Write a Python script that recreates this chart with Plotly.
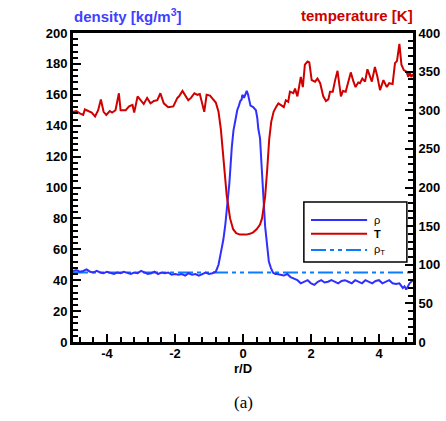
import plotly.graph_objects as go

# ---------------- data ----------------
r_T = [-5.0, -4.9, -4.8, -4.7, -4.65, -4.55, -4.45, -4.35, -4.26, -4.18, -4.1, -4.02,
       -3.92, -3.85, -3.75, -3.65, -3.6, -3.45, -3.35, -3.25, -3.2, -3.1, -3.0, -2.92,
       -2.82, -2.72, -2.62, -2.52, -2.43, -2.33, -2.2, -2.05, -1.93, -1.88, -1.78, -1.69,
       -1.61, -1.53, -1.43, -1.34, -1.27, -1.14, -1.07, -0.97, -0.87, -0.8, -0.72, -0.65,
       -0.6, -0.55, -0.48, -0.38, -0.29, -0.2, -0.09, 0.0, 0.1, 0.2, 0.3, 0.4, 0.5, 0.56,
       0.65, 0.71, 0.77, 0.83, 0.9, 0.97, 1.04, 1.14, 1.2, 1.26, 1.33, 1.38, 1.48, 1.53,
       1.6, 1.7, 1.76, 1.82, 1.9, 1.95, 2.02, 2.12, 2.19, 2.27, 2.36, 2.44, 2.51, 2.56,
       2.64, 2.71, 2.78, 2.88, 2.94, 3.02, 3.09, 3.17, 3.25, 3.31, 3.39, 3.44, 3.51, 3.59,
       3.66, 3.74, 3.79, 3.88, 3.95, 4.03, 4.13, 4.23, 4.3, 4.4, 4.47, 4.53, 4.6, 4.66,
       4.73, 4.81, 4.86, 4.9, 4.95, 5.0]
T_vals = [298, 299, 296, 294, 301, 299, 297, 292, 300, 314, 298, 294,
          299, 297, 300, 322, 300, 300, 305, 307, 297, 318, 313, 308,
          316, 309, 312, 313, 322, 309, 304, 305, 316, 318, 325, 318,
          313, 316, 322, 320, 321, 298, 320, 319, 313, 310, 298, 275,
          250, 222, 190, 160, 146, 141, 139, 139, 139, 140, 142, 146, 152, 160,
          188, 222, 262, 285, 298, 304, 309, 306, 304, 313, 311, 324, 322, 328,
          318, 343, 330, 359, 363, 362, 339, 337, 341, 335, 318, 312, 314, 324,
          324, 339, 351, 318, 325, 324, 335, 349, 337, 330, 336, 335, 341, 337,
          353, 344, 337, 356, 344, 326, 339, 330, 335, 334, 361, 364, 386, 359,
          352, 350, 343, 349, 343, 347]

r_rho = [-5.0, -4.9, -4.8, -4.7, -4.6, -4.5, -4.4, -4.3, -4.2, -4.1, -4.0, -3.9, -3.8,
         -3.7, -3.6, -3.5, -3.4, -3.3, -3.2, -3.1, -3.0, -2.9, -2.8, -2.7, -2.6, -2.5,
         -2.4, -2.3, -2.2, -2.1, -2.0, -1.9, -1.8, -1.7, -1.6, -1.5, -1.4, -1.3, -1.2,
         -1.1, -1.0, -0.9, -0.8, -0.72, -0.65, -0.58, -0.52, -0.46, -0.4, -0.33, -0.28,
         -0.22, -0.17, -0.12, -0.08, -0.04, -0.02, 0.03, 0.07, 0.11, 0.15, 0.18, 0.22,
         0.3, 0.38, 0.42, 0.45, 0.5, 0.55, 0.6, 0.65, 0.71, 0.76, 0.82, 0.88, 0.95, 1.0,
         1.1, 1.2, 1.3, 1.4, 1.5, 1.6, 1.7, 1.8, 1.9, 2.0, 2.1, 2.2, 2.3, 2.4, 2.5, 2.6,
         2.7, 2.8, 2.9, 3.0, 3.1, 3.2, 3.3, 3.4, 3.5, 3.6, 3.7, 3.8, 3.9, 4.0, 4.1, 4.2,
         4.3, 4.4, 4.5, 4.6, 4.7, 4.75, 4.8, 4.85, 4.9, 5.0]
rho_vals = [46, 46.5, 45.5, 46, 47, 45.5, 45, 46, 45, 44.5, 45.5, 45, 44,
            45, 44.5, 45.5, 45, 44, 45, 44.5, 46, 45, 44, 44.5, 45.5, 44,
            45, 44.5, 45, 43.5, 44, 43.5, 44, 43, 44.5, 43.5, 44, 43, 44,
            45, 44, 44.5, 45.5, 50, 58, 66, 76, 88, 103, 126, 137,
            144, 150, 153, 156, 157, 160, 158, 161, 162.5, 160, 157, 153,
            152, 150, 145, 138, 132, 116, 94, 75, 60, 52, 48, 45, 44, 44,
            43.5, 43, 44, 42, 41, 40, 38, 39, 40, 38, 37, 39, 40, 38.5, 39, 40,
            39, 38, 39.5, 40, 39, 38, 40, 39, 38, 40, 39, 38, 39.5, 40, 38, 39,
            40, 38, 37.5, 38, 35, 36, 34, 36, 38, 40]

r_rhoT = [-5.0, 5.0]
rhoT_vals = [45, 45]

x_tickvals = [-4, -2, 0, 2, 4]
x_ticktext = ["-4", "-2", "0", "2", "4"]

BLUE = "#2f2fff"
RED = "#d00000"
LBLUE = "#0a7cff"
RHO_T_DASH = "15px,4px,4px,4px,4px,4px"

fig = go.Figure()
fig.add_trace(go.Scatter(x=r_rhoT, y=rhoT_vals, mode="lines", name="ρ_T",
                         line=dict(color=LBLUE, width=2.2, dash=RHO_T_DASH),
                         showlegend=False))
fig.add_trace(go.Scatter(x=r_T, y=T_vals, mode="lines", name="T", yaxis="y2",
                         line=dict(color=RED, width=2), showlegend=False))
fig.add_trace(go.Scatter(x=r_rho, y=rho_vals, mode="lines", name="ρ",
                         line=dict(color=BLUE, width=2), showlegend=False))

tickfont = dict(family="Liberation Sans, Arial", size=13, color="black", weight="bold")
axis_common = dict(showline=True, linecolor="black", linewidth=3, ticks="inside",
                   ticklen=8, tickwidth=2, tickcolor="black", showgrid=False,
                   zeroline=False, tickfont=tickfont, automargin=False)

fig.update_layout(
    width=446, height=421,
    margin=dict(l=73, r=33, t=33, b=79),
    paper_bgcolor="white", plot_bgcolor="white",
    xaxis=dict(range=[-5, 5], tickvals=x_tickvals, ticktext=x_ticktext, mirror=True,
               ticklabelstandoff=-3,
               minor=dict(dtick=0.4, tick0=0, ticks="inside", ticklen=5, tickwidth=2,
                          tickcolor="black"),
               **axis_common),
    yaxis=dict(range=[0, 200], dtick=20, tick0=0,
               minor=dict(dtick=4, ticks="inside", ticklen=5, tickwidth=2,
                          tickcolor="black"),
               **axis_common),
    yaxis2=dict(range=[0, 400], dtick=50, tick0=0, overlaying="y", side="right",
                minor=dict(dtick=10, ticks="inside", ticklen=5, tickwidth=2,
                           tickcolor="black"),
                **axis_common),
)

# titles / labels
fig.add_annotation(text="density [kg/m<sup>3</sup>]", xref="paper", yref="paper",
                   x=-0.003, y=1.058, xanchor="left", yanchor="middle", showarrow=False,
                   font=dict(family="Liberation Sans, Arial", size=15, color="#4040ff",
                             weight="bold"))
fig.add_annotation(text="temperature [K]", xref="paper", yref="paper",
                   x=1.006, y=1.058, xanchor="right", yanchor="middle", showarrow=False,
                   font=dict(family="Liberation Sans, Arial", size=15, color="#cc0000",
                             weight="bold"))
fig.add_annotation(text="r/D", xref="paper", yref="paper", x=0.5, y=-0.087,
                   xanchor="center", yanchor="middle", showarrow=False,
                   font=dict(family="Liberation Sans, Arial", size=13, color="black",
                             weight="bold"))
fig.add_annotation(text="(a)", xref="paper", yref="paper", x=0.5, y=-0.197,
                   xanchor="center", yanchor="middle", showarrow=False,
                   font=dict(family="Liberation Serif, Times New Roman", size=17,
                             color="black"))

# custom legend box
fig.add_shape(type="rect", xref="paper", yref="paper", x0=0.679, x1=0.982,
              y0=0.259, y1=0.453, line=dict(color="black", width=1.5),
              fillcolor="white", layer="above")
legend_items = [("ρ", BLUE, "solid", 0.395, False),
                ("T", RED, "solid", 0.350, True),
                ("ρ<sub>T</sub>", LBLUE, RHO_T_DASH, 0.298, False)]
for label, col, dash, yy, bold in legend_items:
    fig.add_shape(type="line", xref="paper", yref="paper", x0=0.700, x1=0.865,
                  y0=yy, y1=yy, line=dict(color=col, width=2, dash=dash), layer="above")
    fig.add_annotation(text=label, xref="paper", yref="paper", x=0.88, y=yy,
                       xanchor="left", yanchor="middle", showarrow=False,
                       font=dict(family="Liberation Sans, Arial", size=11, color="black",
                                 weight="bold" if bold else "normal"))

fig.write_html("out.html", config={"displayModeBar": False},
               post_script="document.body.style.margin='0';document.body.style.overflow='hidden';")
